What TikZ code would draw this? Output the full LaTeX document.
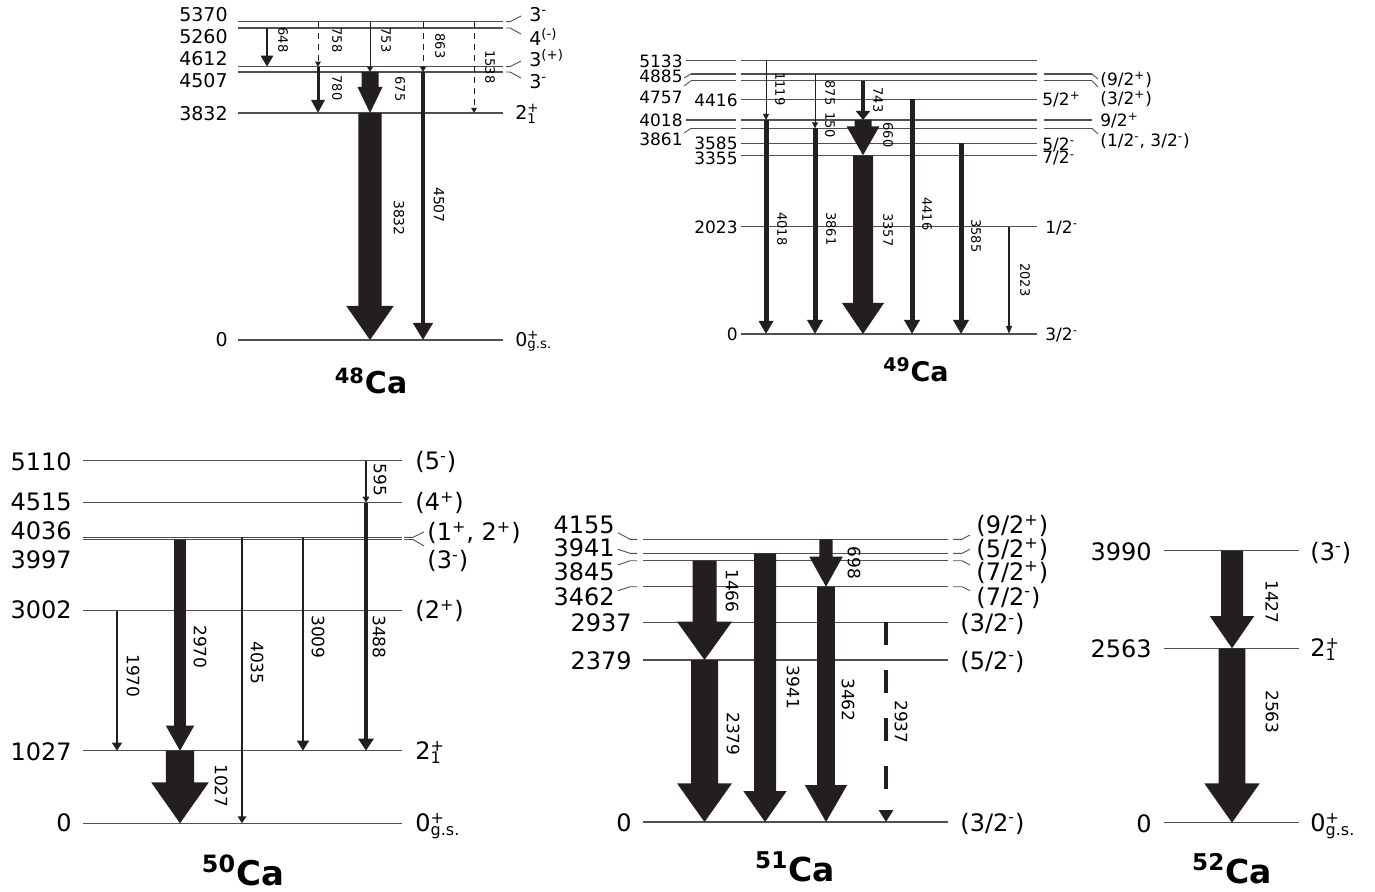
\documentclass[tikz,border=0pt]{standalone}
\usepackage{fontspec}
\setmainfont{DejaVu Sans}
\usetikzlibrary{arrows.meta}

\definecolor{gdark}{HTML}{231F20}
\definecolor{lvgray}{HTML}{505050}

% fat gamma: x, top, bottom, half body, half head, head length
\newcommand{\fatgam}[6]{%
  \fill[gdark] (#1-#4,#2) -- (#1+#4,#2) -- (#1+#4,#3-#6) -- (#1+#5,#3-#6)
    -- (#1,#3) -- (#1-#5,#3-#6) -- (#1-#4,#3-#6) -- cycle;}
\newcommand{\jp}{\textsuperscript{+}}
\newcommand{\jm}{\textsuperscript{-}}

\tikzset{
  lvl/.style={draw=lvgray,line width=0.6pt},
  kink/.style={draw=lvgray,line width=0.45pt},
  lv/.style={inner sep=0pt,text depth=0pt},
  lvS/.style={lv,font=\fontsize{9.5}{11}\selectfont,text height=6.9pt},
  lvM/.style={lv,font=\fontsize{8.5}{10}\selectfont,text height=6.2pt},
  lvL/.style={lv,font=\fontsize{12}{14}\selectfont,text height=8.8pt},
  glab/.style={rotate=-90,inner sep=0pt,font=\fontsize{#1}{#1}\selectfont},
  gam/.style={draw=gdark,line width=#1},
  dsh/.style={dash pattern=on 3pt off 2.5pt},
  nuc/.style={inner sep=0pt,anchor=base,font=\fontsize{#1}{#1}\selectfont\bfseries},
}

\begin{document}
\begin{tikzpicture}[x=0.5pt,y=-0.5pt]
\useasboundingbox (0,0) rectangle (1375,892);

% 48Ca
\draw[lvl] (238,21.7) -- (503,21.7);
\draw[lvl] (238,28) -- (503,28);
\draw[lvl] (238,66.7) -- (503,66.7);
\draw[lvl] (238,72) -- (503,72);
\draw[lvl] (238,113) -- (503,113);
\draw[lvl] (238,340) -- (503,340);
\draw[kink] (506,21.7) -- (510,21.7) -- (521,16);
\draw[kink] (506,28) -- (510,28) -- (521,34);
\draw[kink] (506,66.7) -- (510,66.7) -- (521,61);
\draw[kink] (506,72) -- (510,72) -- (521,78);

\node[lvS,anchor=east] (e48a) at (228,15) {5370};
\node[lvS,anchor=east] (e48b) at (228,36.5) {5260};
\node[lvS,anchor=east] (e48c) at (228,58.5) {4612};
\node[lvS,anchor=east] (e48d) at (228,81) {4507};
\node[lvS,anchor=east] (e48e) at (228,114) {3832};
\node[lvS,anchor=east] (e48f) at (228,340) {0};
\node[lvS,anchor=west] (j48a) at (529,15) {3\jm};
\node[lvS,anchor=west] (j48b) at (529,39) {4\textsuperscript{(-)}};
\node[lvS,anchor=west] (j48c) at (529,60) {3\textsuperscript{(+)}};
\node[lvS,anchor=west] (j48d) at (529,82) {3\jm};
\node[lvS,anchor=west] (j48e) at (515,113) {2\rlap{\jp}\textsubscript{1}};
\node[lvS,anchor=west] (j48f) at (515,340) {0\rlap{\jp}\textsubscript{g.s.}};

\draw[gam=1.4pt,-{Triangle[length=5.5pt,width=6pt]}] (267,28) -- (267,66.7);
\draw[gam=0.5pt,dsh,-{Triangle[length=2.5pt,width=2.8pt]}] (318,21.7) -- (318,66.7);
\draw[gam=1.5pt,-{Triangle[length=6.5pt,width=6.5pt]}] (318,66.7) -- (318,113);
\draw[gam=0.5pt,-{Triangle[length=2.5pt,width=2.8pt]}] (370,21.7) -- (370,72);
\fatgam{370}{72}{113}{8.5}{12.5}{26}
\draw[gam=0.5pt,dsh,-{Triangle[length=2.5pt,width=2.8pt]}] (423,21.7) -- (423,72);
\draw[gam=2.1pt,-{Triangle[length=8.5pt,width=9.5pt]}] (423,72) -- (423,340);
\draw[gam=0.5pt,dsh,-{Triangle[length=2.5pt,width=2.8pt]}] (474,21.7) -- (474,113);
\fatgam{370}{113}{340}{11.7}{23.7}{34}

\node[glab=6.5] (g48a) at (283,40) {648};
\node[glab=6.5] (g48b) at (337,40) {758};
\node[glab=6.5] (g48c) at (337,88) {780};
\node[glab=6.5] (g48d) at (386,40) {753};
\node[glab=6.5] (g48e) at (400,89) {675};
\node[glab=6.5] (g48f) at (440,46) {863};
\node[glab=7] (g48g) at (439,205) {4507};
\node[glab=6.5] (g48h) at (490,67) {1538};
\node[glab=7] (g48i) at (399,218) {3832};
\node[nuc=15] (n48) at (371,394) {\textsuperscript{48}Ca};

% 49Ca
\draw[lvl] (686,60.7) -- (736,60.7) (741,60.7) -- (1037,60.7);
\draw[lvl] (691,74) -- (736,74) (741,74) -- (1037,74) (1044,74) -- (1092,74);
\draw[lvl] (691,80.7) -- (736,80.7) (741,80.7) -- (1037,80.7) (1044,80.7) -- (1092,80.7);
\draw[lvl] (741,99.3) -- (1037,99.3);
\draw[lvl] (686,120) -- (736,120) (741,120) -- (1037,120) (1044,120) -- (1092,120);
\draw[lvl] (691,128.3) -- (736,128.3) (741,128.3) -- (1037,128.3) (1044,128.3) -- (1092,128.3);
\draw[lvl] (741,143.3) -- (1037,143.3);
\draw[lvl] (741,155.3) -- (1037,155.3);
\draw[lvl] (741,226.7) -- (1037,226.7);
\draw[lvl] (741,334) -- (1037,334);
\draw[kink] (684,78) -- (691,74);
\draw[kink] (684,86) -- (691,80.7);
\draw[kink] (684,133) -- (691,128.3);
\draw[kink] (1092,74) -- (1098,79);
\draw[kink] (1092,80.7) -- (1098,87);
\draw[kink] (1092,128.3) -- (1098,134);

\node[lvM,anchor=east] (e49a) at (683,61.7) {5133};
\node[lvM,anchor=east] (e49b) at (683,76.7) {4885};
\node[lvM,anchor=east] (e49c) at (683,97) {4757};
\node[lvM,anchor=east] (e49d) at (738,100) {4416};
\node[lvM,anchor=east] (e49e) at (683,120.8) {4018};
\node[lvM,anchor=east] (e49f) at (683,139) {3861};
\node[lvM,anchor=east] (e49g) at (738,143.7) {3585};
\node[lvM,anchor=east] (e49h) at (738,158.3) {3355};
\node[lvM,anchor=east] (e49i) at (738,227) {2023};
\node[lvM,anchor=east] (e49j) at (738,334) {0};
\node[lvM,anchor=west] (j49a) at (1100,79) {(9/2\jp)};
\node[lvM,anchor=west] (j49b) at (1100,98) {(3/2\jp)};
\node[lvM,anchor=west] (j49c) at (1100,120) {9/2\jp};
\node[lvM,anchor=west] (j49d) at (1100,140) {(1/2\jm, 3/2\jm)};
\node[lvM,anchor=west] (j49e) at (1042,99.3) {5/2\jp};
\node[lvM,anchor=west] (j49f) at (1042,144) {5/2\jm};
\node[lvM,anchor=west] (j49g) at (1042,157.5) {7/2\jm};
\node[lvM,anchor=west] (j49h) at (1045,227) {1/2\jm};
\node[lvM,anchor=west] (j49i) at (1045,334) {3/2\jm};

\draw[gam=0.5pt,-{Triangle[length=3pt,width=3pt]}] (766,60.7) -- (766,120);
\draw[gam=2.5pt,-{Triangle[length=6.5pt,width=7pt]}] (766,120) -- (766,334);
\draw[gam=0.5pt,-{Triangle[length=3pt,width=3pt]}] (815,74) -- (815,128.3);
\draw[gam=2.5pt,-{Triangle[length=7pt,width=7.5pt]}] (815,128.3) -- (815,334);
\draw[gam=2pt,-{Triangle[length=4.5pt,width=7pt]}] (863,80.7) -- (863,120);
\fatgam{863}{120}{155.3}{8.5}{16.5}{29}
\fatgam{863}{155.3}{334}{10}{21}{31}
\draw[gam=2.5pt,-{Triangle[length=7pt,width=7.5pt]}] (912,99.3) -- (912,334);
\draw[gam=2.5pt,-{Triangle[length=7pt,width=7.5pt]}] (961,143.3) -- (961,334);
\draw[gam=0.8pt,-{Triangle[length=4pt,width=2.8pt]}] (1009,226.7) -- (1009,334);

\node[glab=6.5] (g49a) at (780,89) {1119};
\node[glab=6.5] (g49b) at (782,229) {4018};
\node[glab=6.5] (g49c) at (830,93) {875};
\node[glab=6.5] (g49d) at (830,125) {150};
\node[glab=6.5] (g49e) at (831,229) {3861};
\node[glab=6.5] (g49f) at (878,100) {743};
\node[glab=6.5] (g49g) at (888,135) {660};
\node[glab=6.5] (g49h) at (888,230) {3357};
\node[glab=6.5] (g49i) at (927,214) {4416};
\node[glab=6.5] (g49j) at (976,236) {3585};
\node[glab=6.5] (g49k) at (1025,280) {2023};
\node[nuc=13.5] (n49) at (916,382) {\textsuperscript{49}Ca};

% 50Ca
\draw[lvl] (83,460.7) -- (402,460.7);
\draw[lvl] (83,502.7) -- (402,502.7);
\draw[lvl] (83,537.3) -- (402,537.3);
\draw[lvl] (83,539.5) -- (402,539.5);
\draw[lvl] (83,610.7) -- (402,610.7);
\draw[lvl] (83,750.7) -- (402,750.7);
\draw[lvl] (83,823.3) -- (402,823.3);
\draw[kink] (404,537.3) -- (413,537.3) -- (424,532);
\draw[kink] (404,539.5) -- (413,539.5) -- (424,546);

\node[lvL,anchor=east] (e50a) at (72,462) {5110};
\node[lvL,anchor=east] (e50b) at (72,502) {4515};
\node[lvL,anchor=east] (e50c) at (72,531) {4036};
\node[lvL,anchor=east] (e50d) at (72,560) {3997};
\node[lvL,anchor=east] (e50e) at (72,610) {3002};
\node[lvL,anchor=east] (e50f) at (72,752) {1027};
\node[lvL,anchor=east] (e50g) at (72,823) {0};
\node[lvL,anchor=west] (j50a) at (415,461) {(5\jm)};
\node[lvL,anchor=west] (j50b) at (415,502) {(4\jp)};
\node[lvL,anchor=west] (j50c) at (427,532) {(1\jp, 2\jp)};
\node[lvL,anchor=west] (j50d) at (427,560) {(3\jm)};
\node[lvL,anchor=west] (j50e) at (415,610) {(2\jp)};
\node[lvL,anchor=west] (j50f) at (415,751) {2\rlap{\jp}\textsubscript{1}};
\node[lvL,anchor=west] (j50g) at (415,823) {0\rlap{\jp}\textsubscript{g.s.}};

\draw[gam=0.65pt,-{Triangle[length=3pt,width=3.2pt]}] (366,460.7) -- (366,502.7);
\draw[gam=1.7pt,-{Triangle[length=6pt,width=7.5pt]}] (366,502.7) -- (366,750.7);
\fatgam{180}{539.5}{750.7}{5.8}{14.2}{25}
\draw[gam=0.65pt,-{Triangle[length=3.5pt,width=4.3pt]}] (242,537.3) -- (242,823.3);
\draw[gam=1.2pt,-{Triangle[length=5pt,width=5.8pt]}] (303,537.3) -- (303,750.7);
\draw[gam=0.65pt,-{Triangle[length=4pt,width=5pt]}] (117,610.7) -- (117,750.7);
\fatgam{180}{750.7}{823.3}{14.2}{28.8}{41}

\node[glab=8.5] (g50a) at (380,480) {595};
\node[glab=8.5] (g50b) at (379,637) {3488};
\node[glab=8.5] (g50c) at (200,647) {2970};
\node[glab=8.5] (g50d) at (257,663) {4035};
\node[glab=8.5] (g50e) at (318,637) {3009};
\node[glab=8.5] (g50f) at (133,676) {1970};
\node[glab=8.5] (g50g) at (221,786) {1027};
\node[nuc=17] (n50) at (243,885.5) {\textsuperscript{50}Ca};

% 51Ca
\draw[lvl] (643,539.3) -- (948,539.3);
\draw[lvl] (643,553.3) -- (948,553.3);
\draw[lvl] (643,560.7) -- (948,560.7);
\draw[lvl] (643,586.7) -- (948,586.7);
\draw[lvl] (643,622.3) -- (948,622.3);
\draw[lvl] (643,660) -- (948,660);
\draw[lvl] (643,822) -- (948,822);
\draw[kink] (618,532.7) -- (630,539.3) -- (637,539.3);
\draw[kink] (618,549.3) -- (630,553.3) -- (637,553.3);
\draw[kink] (618,565) -- (630,560.7) -- (637,560.7);
\draw[kink] (618,590.7) -- (630,586.7) -- (637,586.7);
\draw[kink] (953,539.3) -- (962,539.3) -- (970,535);
\draw[kink] (953,553.3) -- (962,553.3) -- (970,549.3);
\draw[kink] (953,560.7) -- (962,560.7) -- (970,565);
\draw[kink] (953,586.7) -- (962,586.7) -- (970,590.7);

\node[lvL,anchor=east] (e51a) at (615,524.7) {4155};
\node[lvL,anchor=east] (e51b) at (615,548) {3941};
\node[lvL,anchor=east] (e51c) at (615,571.7) {3845};
\node[lvL,anchor=east] (e51d) at (615,596.7) {3462};
\node[lvL,anchor=east] (e51e) at (632,622.5) {2937};
\node[lvL,anchor=east] (e51f) at (632,660.8) {2379};
\node[lvL,anchor=east] (e51g) at (632,822.5) {0};
\node[lvL,anchor=west] (j51a) at (976,525) {(9/2\jp)};
\node[lvL,anchor=west] (j51b) at (976,548.3) {(5/2\jp)};
\node[lvL,anchor=west] (j51c) at (976,571.7) {(7/2\jp)};
\node[lvL,anchor=west] (j51d) at (976,596.7) {(7/2\jm)};
\node[lvL,anchor=west] (j51e) at (960,623) {(3/2\jm)};
\node[lvL,anchor=west] (j51f) at (960,660.8) {(5/2\jm)};
\node[lvL,anchor=west] (j51g) at (960,822.7) {(3/2\jm)};

\fatgam{704.5}{560.7}{660}{12}{27.5}{38.3}
\fatgam{704.5}{660}{822}{13.5}{27.5}{38.7}
\fatgam{765}{553.3}{822}{11}{21.7}{31}
\fatgam{826}{539.3}{586.7}{6.7}{16.7}{30}
\fatgam{826}{586.7}{822}{8.8}{21.2}{37}
\draw[gam=1.75pt,dash pattern=on 11.5pt off 12.5pt,-{Triangle[length=6pt,width=7pt]}] (886,622.3) -- (886,822);

\node[glab=8.5] (g51a) at (732,591) {1466};
\node[glab=8.5] (g51b) at (733,734) {2379};
\node[glab=8.5] (g51c) at (793,687.5) {3941};
\node[glab=8.5] (g51d) at (854,563) {698};
\node[glab=8.5] (g51e) at (848,700) {3462};
\node[glab=8.5] (g51f) at (901,722) {2937};
\node[nuc=16.5] (n51) at (795,881.5) {\textsuperscript{51}Ca};

% 52Ca
\draw[lvl] (1164,550.7) -- (1299,550.7);
\draw[lvl] (1164,648.3) -- (1299,648.3);
\draw[lvl] (1164,822.7) -- (1299,822.7);

\node[lvL,anchor=east] (e52a) at (1152,551.7) {3990};
\node[lvL,anchor=east] (e52b) at (1152,648.3) {2563};
\node[lvL,anchor=east] (e52c) at (1152,823.3) {0};
\node[lvL,anchor=west] (j52a) at (1310,551.7) {(3\jm)};
\node[lvL,anchor=west] (j52b) at (1310,648) {2\rlap{\jp}\textsubscript{1}};
\node[lvL,anchor=west] (j52c) at (1310,823) {0\rlap{\jp}\textsubscript{g.s.}};

\fatgam{1232}{550.7}{648.3}{11}{22.3}{32.3}
\fatgam{1232}{648.3}{822.7}{13.3}{27.7}{39.3}

\node[glab=8.5] (g52a) at (1272,602) {1427};
\node[glab=8.5] (g52b) at (1272,712) {2563};
\node[nuc=16.5] (n52) at (1232,883) {\textsuperscript{52}Ca};
\end{tikzpicture}
\end{document}
